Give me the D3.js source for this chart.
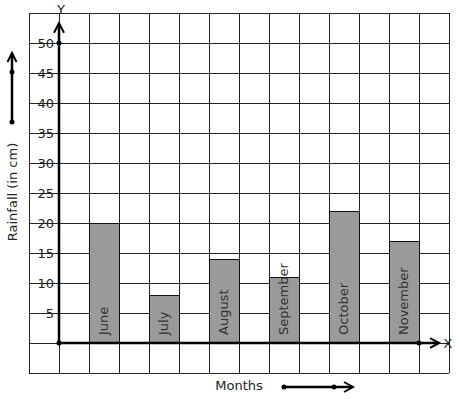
<!DOCTYPE html>
<html>
<head>
<meta charset="utf-8">
<script src="https://cdn.jsdelivr.net/npm/d3@7"></script>
<style>
  body { margin: 0; background: #fff; }
  svg { display: block; font-family: "DejaVu Sans", sans-serif; }
</style>
</head>
<body>
<svg id="chart" width="457" height="399"></svg>
<script>
const months = ["June", "July", "August", "September", "October", "November"];
const rainfall = [20, 8, 14, 11, 22, 17];
const yTicks = [5, 10, 15, 20, 25, 30, 35, 40, 45, 50];

const svg = d3.select("#chart");

// grid scales: columns and rows of 30px cells
const gx = d3.scaleLinear().domain([-1, 13]).range([29, 449]);
const y = d3.scaleLinear().domain([-5, 55]).range([373, 13]);
const x = d3.scaleBand().domain(months).range([gx(1), gx(13)])
  .paddingInner(0.5).paddingOuter(0.25).align(0);

const ink = "#222";

// grid
const grid = svg.append("g").attr("stroke", ink).attr("stroke-width", 1).attr("shape-rendering", "crispEdges");
grid.selectAll("line.v").data(d3.range(-1, 14)).join("line")
  .attr("x1", d => gx(d)).attr("x2", d => gx(d))
  .attr("y1", y(55)).attr("y2", y(-5));
grid.selectAll("line.h").data(d3.range(-5, 60, 5)).join("line")
  .attr("y1", d => y(d)).attr("y2", d => y(d))
  .attr("x1", gx(-1)).attr("x2", gx(13));

// bars
svg.append("g").selectAll("rect").data(months).join("rect")
  .attr("x", d => x(d)).attr("width", x.bandwidth())
  .attr("y", (d, i) => y(rainfall[i]))
  .attr("height", (d, i) => y(0) - y(rainfall[i]))
  .attr("fill", "#9a9a9a").attr("stroke", "#111").attr("stroke-width", 1)
  .attr("shape-rendering", "crispEdges");

// bar labels
svg.append("g").selectAll("text").data(months).join("text")
  .attr("transform", d => `translate(${x(d) + x.bandwidth() / 2 + 4},${y(0) - 8}) rotate(-90)`)
  .attr("font-size", 13).attr("fill", "#333")
  .text(d => d);

// y tick labels
svg.append("g").selectAll("text").data(yTicks).join("text")
  .attr("x", 54).attr("y", d => y(d) + 4.5)
  .attr("text-anchor", "end").attr("font-size", 13).attr("fill", ink)
  .text(d => d);

// axes
const axes = svg.append("g").attr("stroke", "#000").attr("stroke-width", 2.5).attr("fill", "none");
axes.append("line").attr("x1", gx(0)).attr("x2", gx(0)).attr("y1", y(0)).attr("y2", y(53.3));
axes.append("path").attr("d", `M${gx(0) - 5},${y(51.7)}L${gx(0)},${y(53.3)}L${gx(0) + 5},${y(51.7)}`).attr("stroke-width", 2);
axes.append("line").attr("x1", gx(0)).attr("x2", gx(12.67)).attr("y1", y(0)).attr("y2", y(0));
axes.append("path").attr("d", `M${gx(12.37)},${y(0.8)}L${gx(12.67)},${y(0)}L${gx(12.37)},${y(-0.8)}`).attr("stroke-width", 2);

// dots on axes
svg.append("g").selectAll("circle").data([[gx(0), y(0)], [gx(0), y(50)], [gx(12), y(0)]]).join("circle")
  .attr("cx", d => d[0]).attr("cy", d => d[1]).attr("r", 2.5).attr("fill", "#000");

// axis names
svg.append("text").attr("x", 61).attr("y", 14).attr("text-anchor", "middle")
  .attr("font-size", 13).attr("fill", ink).text("Y");
svg.append("text").attr("x", 448).attr("y", 348).attr("text-anchor", "middle")
  .attr("font-size", 13).attr("fill", ink).text("X");

// side label with decorative arrow
svg.append("text").attr("transform", "translate(17,192) rotate(-90)")
  .attr("text-anchor", "middle").attr("font-size", 13).attr("fill", ink)
  .text("Rainfall (in cm)");
const la = svg.append("g").attr("stroke", "#000").attr("stroke-width", 2.5).attr("fill", "none");
la.append("line").attr("x1", 12).attr("x2", 12).attr("y1", 122).attr("y2", 54);
la.append("path").attr("d", "M7.5,62L12,53L16.5,62").attr("stroke-width", 2);
svg.append("circle").attr("cx", 12).attr("cy", 122).attr("r", 2.5).attr("fill", "#000");
svg.append("circle").attr("cx", 12).attr("cy", 72).attr("r", 2.5).attr("fill", "#000");

// bottom label with decorative arrow
svg.append("text").attr("x", 239).attr("y", 390).attr("text-anchor", "middle")
  .attr("font-size", 13).attr("fill", ink).text("Months");
const ba = svg.append("g").attr("stroke", "#000").attr("stroke-width", 2.5).attr("fill", "none");
ba.append("line").attr("x1", 284).attr("x2", 352).attr("y1", 387).attr("y2", 387);
ba.append("path").attr("d", "M344,382L353,387L344,392").attr("stroke-width", 2);
svg.append("circle").attr("cx", 284).attr("cy", 387).attr("r", 2.5).attr("fill", "#000");
svg.append("circle").attr("cx", 334).attr("cy", 387).attr("r", 2.5).attr("fill", "#000");
</script>
</body>
</html>
